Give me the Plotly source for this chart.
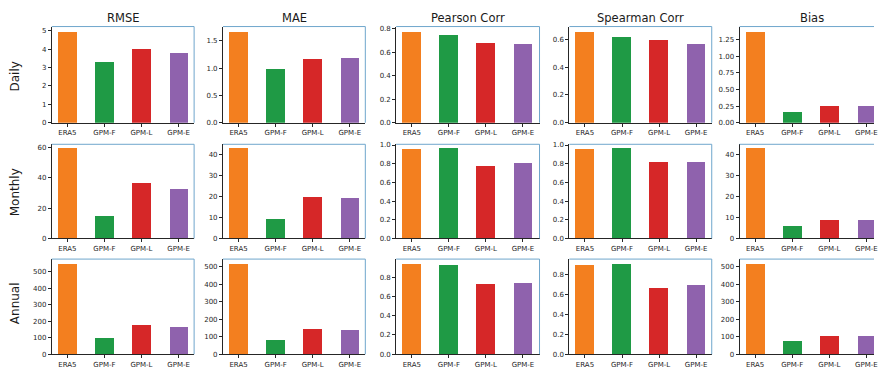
import plotly.graph_objects as go
from plotly.subplots import make_subplots

# Products compared and the evaluation metrics / aggregation scales
models = ["ERA5", "GPM-F", "GPM-L", "GPM-E"]
metrics = ["RMSE", "MAE", "Pearson Corr", "Spearman Corr", "Bias"]
scales = ["Daily", "Monthly", "Annual"]

# Daily scores
daily_rmse = [4.98, 3.35, 4.05, 3.84]
daily_mae = [1.68, 0.99, 1.17, 1.20]
daily_pearson = [0.78, 0.75, 0.68, 0.67]
daily_spearman = [0.66, 0.62, 0.60, 0.57]
daily_bias = [1.38, 0.17, 0.26, 0.26]

# Monthly scores
monthly_rmse = [59.0, 14.6, 36.2, 32.2]
monthly_mae = [42.8, 9.3, 19.8, 19.2]
monthly_pearson = [0.95, 0.96, 0.77, 0.80]
monthly_spearman = [0.95, 0.96, 0.82, 0.82]
monthly_bias = [42.8, 6.0, 8.7, 8.6]

# Annual scores
annual_rmse = [548, 95, 175, 163]
annual_mae = [518, 82, 144, 141]
annual_pearson = [0.94, 0.92, 0.73, 0.74]
annual_spearman = [0.90, 0.91, 0.66, 0.69]
annual_bias = [518, 76, 106, 104]

table = [
    [daily_rmse, daily_mae, daily_pearson, daily_spearman, daily_bias],
    [monthly_rmse, monthly_mae, monthly_pearson, monthly_spearman, monthly_bias],
    [annual_rmse, annual_mae, annual_pearson, annual_spearman, annual_bias],
]

# y tick step and format for each panel
tick_steps = [
    [1, 0.5, 0.2, 0.2, 0.25],
    [20, 10, 0.2, 0.2, 10],
    [100, 100, 0.2, 0.2, 100],
]
tick_fmts = [
    ["d", ".1f", ".1f", ".1f", ".2f"],
    ["d", "d", ".1f", ".1f", "d"],
    ["d", "d", ".1f", ".1f", "d"],
]

colors = ["#f37f1f", "#1f9a45", "#d62728", "#8f62ad"]

W, H = 878, 372
col_px = [(52, 195), (224, 367), (398, 542), (572, 715), (743, 878)]
row_px = [(24, 122), (144, 240), (261, 358)]
px_per_unit = 143 / 3.84

fig = make_subplots(rows=3, cols=5)

dark = "#262626"
blue = "#6fa6cc"
shapes = []

for r in range(3):
    for c in range(5):
        vals = table[r][c]
        fig.add_trace(
            go.Bar(x=models, y=vals, width=0.5, marker=dict(color=colors, line=dict(width=0)),
                   showlegend=False),
            row=r + 1, col=c + 1,
        )
        n = r * 5 + c + 1
        sfx = "" if n == 1 else str(n)
        x0, x1 = col_px[c]
        y0, y1 = row_px[r]
        xr_hi = -0.42 + (x1 - x0) / px_per_unit
        fig.update_xaxes(
            domain=[x0 / W, x1 / W], range=[-0.42, xr_hi],
            showline=True, linecolor=dark, linewidth=1,
            ticks="outside", ticklen=3, tickcolor=dark,
            tickfont=dict(size=7, color=dark, family="DejaVu Sans"),
            showgrid=False, zeroline=False,
            row=r + 1, col=c + 1,
        )
        top = max(vals) * 1.05
        fig.update_yaxes(
            domain=[1 - y1 / H, 1 - y0 / H], range=[0, top],
            dtick=tick_steps[r][c], tick0=0, tickformat=tick_fmts[r][c],
            showline=True, linecolor=dark, linewidth=1,
            ticks="outside", ticklen=3, tickcolor=dark,
            tickfont=dict(size=7, color=dark, family="DejaVu Sans"),
            showgrid=False, zeroline=False,
            row=r + 1, col=c + 1,
        )
        # top and right frame lines
        shapes.append(dict(type="line", xref=f"x{sfx} domain", yref=f"y{sfx} domain",
                           x0=0, x1=1, y0=1, y1=1, line=dict(color=blue, width=1)))
        if c < 4:
            shapes.append(dict(type="line", xref=f"x{sfx} domain", yref=f"y{sfx} domain",
                               x0=1, x1=1, y0=0, y1=1, line=dict(color=blue, width=1)))

annotations = []
title_x = [123.5, 296, 470, 643, 816]
for c, name in enumerate(metrics):
    annotations.append(dict(text=name, x=title_x[c] / W, y=1 - 15 / H, xref="paper", yref="paper",
                            xanchor="center", yanchor="middle", showarrow=False,
                            font=dict(size=11.5, color="#1a1a1a", family="DejaVu Sans")))
row_label_y = [75, 193, 306]
for r, name in enumerate(scales):
    annotations.append(dict(text=name, x=15 / W, y=1 - row_label_y[r] / H, xref="paper", yref="paper",
                            xanchor="center", yanchor="middle", textangle=-90, showarrow=False,
                            font=dict(size=12, color="#1a1a1a", family="DejaVu Sans")))

fig.update_layout(
    width=W, height=H,
    margin=dict(l=0, r=0, t=0, b=0),
    paper_bgcolor="white", plot_bgcolor="white",
    shapes=shapes, annotations=annotations,
    bargap=0,
)

fig.write_html("out.html")
